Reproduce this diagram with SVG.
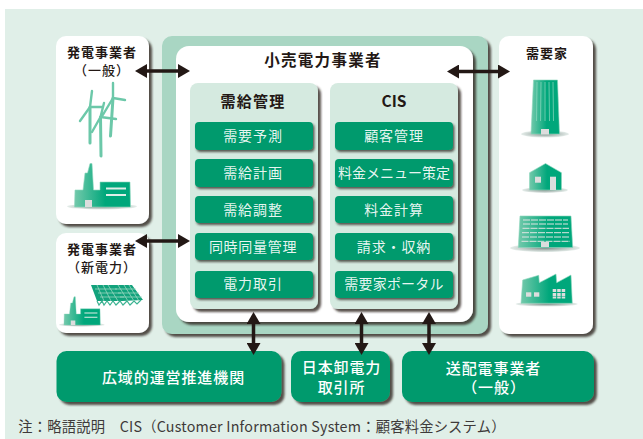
<svg xmlns="http://www.w3.org/2000/svg" xmlns:xlink="http://www.w3.org/1999/xlink" width="643" height="439" viewBox="0 0 643 439">
<style>
text{font-family:"Noto Sans CJK JP","Noto Sans",sans-serif;text-anchor:middle}
.k{fill:#231815;font-size:13px;font-weight:700;letter-spacing:1px}
.kh{fill:#231815;font-size:15px;font-weight:700;letter-spacing:1.2px}
.w{fill:#fff;font-size:14px;font-weight:400;letter-spacing:.9px;fill-opacity:.92}
.wb{fill:#fff;font-size:15px;font-weight:500;letter-spacing:.9px}
.box{fill:#fff;filter:url(#sh)}
.item{fill:#049a6d;filter:url(#shs)}
.bot{fill:#049a6d;filter:url(#sh)}
.pan{fill:#d5eae0;filter:url(#sh)}
.arr{stroke:#231815;stroke-width:3.500;fill:none;marker-start:url(#ah);marker-end:url(#ah)}
.tw{stroke:#6cc8a9;fill:none;stroke-linecap:round}
.gl{stroke:#dfe5e2;stroke-width:1;fill:none}
.gr{fill:#dcdddd}
.ic{fill:url(#g);stroke:#8fd6bd;stroke-width:.6}
</style>
<defs>
<filter id="sh" x="-10%" y="-10%" width="125%" height="125%"><feDropShadow dx="3" dy="3" stdDeviation="1.3" flood-color="#2e2523" flood-opacity=".8"/></filter>
<filter id="shs" x="-10%" y="-20%" width="125%" height="150%"><feDropShadow dx="1.5" dy="2" stdDeviation=".9" flood-color="#2e2523" flood-opacity=".75"/></filter>
<linearGradient id="g" x1="0" y1="0" x2="1" y2="0"><stop offset="0" stop-color="#73c9ab"/><stop offset=".55" stop-color="#00a77b"/><stop offset="1" stop-color="#00a77b"/></linearGradient>
<radialGradient id="gs"><stop offset="0" stop-color="#7f8f8a"/><stop offset="1" stop-color="#e6eeeb"/></radialGradient>
<marker id="ah" markerUnits="userSpaceOnUse" markerWidth="12" markerHeight="14" refX="1" refY="7" orient="auto-start-reverse" viewBox="0 0 12 14"><path d="M0 0L12 7L0 14Z" fill="#231815"/></marker>
<g id="plant">
<ellipse cx="102" cy="206.500" rx="35" ry="3" fill="url(#gs)"/>
<path class="ic" d="M75 190H83L85 173H87.500L90 163.500H92L93.500 190H100V182H130L130.500 207H74.500Z"/>
<path d="M106 188.500H126M106 195H126" stroke="#dfeee8" stroke-width="1.800"/>
<rect class="gr" x="85" y="200" width="7" height="7"/>
</g>
</defs>

<rect x="5" y="9" width="638" height="430" fill="#e0efe8"/>

<g id="generator-general">
<rect class="box" x="56" y="36" width="93" height="188" rx="10"/>
<text class="k" x="102" y="57">発電事業者</text>
<text class="k" x="102" y="75" style="font-weight:500">（一般）</text>
<path class="tw" stroke-width="3" d="M90 143V107M110.500 136L113 98M101 156L100.500 117"/>
<path class="tw" stroke-width="2.400" d="M90 107L92 91M90 107L80 121M90 107L103 107M113 98L113 83M113 98L125 100M113 98L101 118M100.500 117L104 103M100.500 117L116 119M100.500 117L92 132"/>
<use href="#plant"/>
</g>

<g id="generator-new">
<rect class="box" x="56" y="233" width="93" height="100" rx="10"/>
<text class="k" x="102" y="254">発電事業者</text>
<text class="k" x="102" y="272" style="font-weight:500">（新電力）</text>
<use href="#plant" transform="translate(15.500 190.500) scale(.65)"/>
<path d="M91 285H112L125 301L97 301Z M112 285H132L143 300L122 301Z" fill="#12a27c"/>
<path d="M95 289H117M98 293H121M100 297H124M115 289H136M118 293H139M120 297H142M97 285L104 301M103 285L111 301M108 285L118 301M118 285L128 301M124 285L134 301M129 285L139 301" stroke="#a9dcc8" stroke-width=".7" fill="none"/>
<path d="M97 301L99 305L102 301L104 305L107 301L110 305L113 301L116 305L120 301L123 305L127 301L130 305L134 301L137 304L141 300" stroke="#3db392" stroke-width="1.200" fill="none"/>
</g>

<g id="retailer">
<rect x="162" y="36" width="326" height="298" rx="10" fill="#a9d6c3" filter="url(#sh)"/>
<rect class="box" x="176" y="46" width="297" height="276" rx="13"/>
<text class="kh" x="323" y="65.500" style="font-size:15.500px;letter-spacing:1.300px">小売電力事業者</text>
</g>

<g id="demand-supply">
<rect class="pan" x="190" y="83" width="128" height="226" rx="8"/>
<text class="kh" x="253" y="106.500">需給管理</text>
<rect class="item" x="195" y="122" width="118" height="28" rx="4"/><text class="w" x="253" y="141">需要予測</text>
<rect class="item" x="195" y="159" width="118" height="28" rx="4"/><text class="w" x="253" y="178">需給計画</text>
<rect class="item" x="195" y="196" width="118" height="27" rx="4"/><text class="w" x="253" y="215">需給調整</text>
<rect class="item" x="195" y="233" width="118" height="27" rx="4"/><text class="w" x="253" y="252" style="letter-spacing:.7px">同時同量管理</text>
<rect class="item" x="195" y="271" width="118" height="27" rx="4"/><text class="w" x="253" y="289">電力取引</text>
</g>

<g id="cis">
<rect class="pan" x="330" y="83" width="128" height="226" rx="8"/>
<text class="kh" x="394" y="106.500" style="letter-spacing:0;font-size:15.500px">CIS</text>
<rect class="item" x="335" y="122" width="118" height="28" rx="4"/><text class="w" x="394" y="141">顧客管理</text>
<rect class="item" x="335" y="159" width="118" height="28" rx="4"/><text class="w" x="394" y="178" style="letter-spacing:0">料金メニュー策定</text>
<rect class="item" x="335" y="196" width="118" height="27" rx="4"/><text class="w" x="394" y="215">料金計算</text>
<rect class="item" x="335" y="233" width="118" height="27" rx="4"/><text class="w" x="394" y="252">請求・収納</text>
<rect class="item" x="335" y="271" width="118" height="27" rx="4"/><text class="w" x="394" y="289" style="letter-spacing:.2px">需要家ポータル</text>
</g>

<g id="consumer">
<rect class="box" x="499" y="36" width="94" height="298" rx="10"/>
<text class="k" x="547" y="58">需要家</text>
<ellipse cx="545" cy="134" rx="24" ry="3.500" fill="url(#gs)"/>
<path class="ic" d="M533.500 80H557.500L559.500 134H531Z"/>
<path d="M537 82L536.500 121M541 82L540.500 121M545 82V121M549 82L549.500 121M553 82L553.500 121" stroke="#8fd9c0" stroke-width=".7"/>
<rect class="gr" x="541" y="129" width="8" height="5.500"/>
<ellipse cx="545" cy="190" rx="23" ry="3" fill="url(#gs)"/>
<path class="ic" d="M545.500 163.500L561.500 172.700V190H529.500V172.700Z"/>
<rect class="gr" x="535" y="176.700" width="6" height="6"/>
<rect class="gr" x="550" y="176.700" width="6" height="13.300"/>
<ellipse cx="545" cy="248" rx="35" ry="4" fill="url(#gs)"/>
<path class="ic" d="M520 216H571L572.700 247.500H518.300Z"/>
<path class="gl" stroke-dasharray="7 1" d="M523 220H568M523 224H568M522.500 228.300H569M522 232.700H569.500M522 237H570M521.500 241.300H570"/>
<rect class="gr" x="541" y="242" width="8" height="5"/>
<ellipse cx="546.700" cy="304" rx="31" ry="2.500" fill="url(#gs)"/>
<path class="ic" d="M522.700 280L538.700 275.300L539.300 282.700L556 274L556.700 282.700L571 275L572.300 303.300H521Z"/>
<rect class="gr" x="526" y="292.300" width="5.300" height="4.400"/>
<rect class="gr" x="534" y="292.300" width="5.300" height="4.400"/>
<path class="gr" d="M552.700 289H556.200V292H552.700ZM557.200 289H560.700V292H557.200ZM561.700 289H565.200V292H561.700ZM552.700 293H556.200V296H552.700ZM557.200 293H560.700V296H557.200ZM561.700 293H565.200V296H561.700ZM552.700 296.500H556.200V298.500H552.700ZM557.200 296.500H560.700V298.500H557.200ZM561.700 296.500H565.200V298.500H561.700Z"/>
</g>

<g id="occto">
<rect class="bot" x="56.500" y="351" width="225" height="51" rx="10"/>
<text class="wb" x="173.500" y="382.500">広域的運営推進機関</text>
</g>
<g id="jepx">
<rect class="bot" x="291" y="351" width="99" height="51" rx="10"/>
<text class="wb" x="341.500" y="372.500">日本卸電力</text>
<text class="wb" x="341.500" y="392.500">取引所</text>
</g>
<g id="td">
<rect class="bot" x="402" y="351" width="192" height="51" rx="10"/>
<text class="wb" x="493.500" y="373.500">送配電事業者</text>
<text class="wb" x="494" y="392.500">（一般）</text>
</g>

<g id="connectors">
<line class="arr" x1="146" y1="71" x2="179" y2="71"/>
<line class="arr" x1="146" y1="241" x2="179" y2="241"/>
<line class="arr" x1="458" y1="71.500" x2="499" y2="71.500"/>
<line class="arr" x1="253.500" y1="323" x2="253.500" y2="344"/>
<line class="arr" x1="361.500" y1="323" x2="361.500" y2="344"/>
<line class="arr" x1="429" y1="323" x2="429" y2="344"/>
</g>

<text x="262" y="432" style="fill:#3e3a39;font-size:14.300px;letter-spacing:.2px">注：略語説明　CIS（Customer Information System：顧客料金システム）</text>
</svg>
